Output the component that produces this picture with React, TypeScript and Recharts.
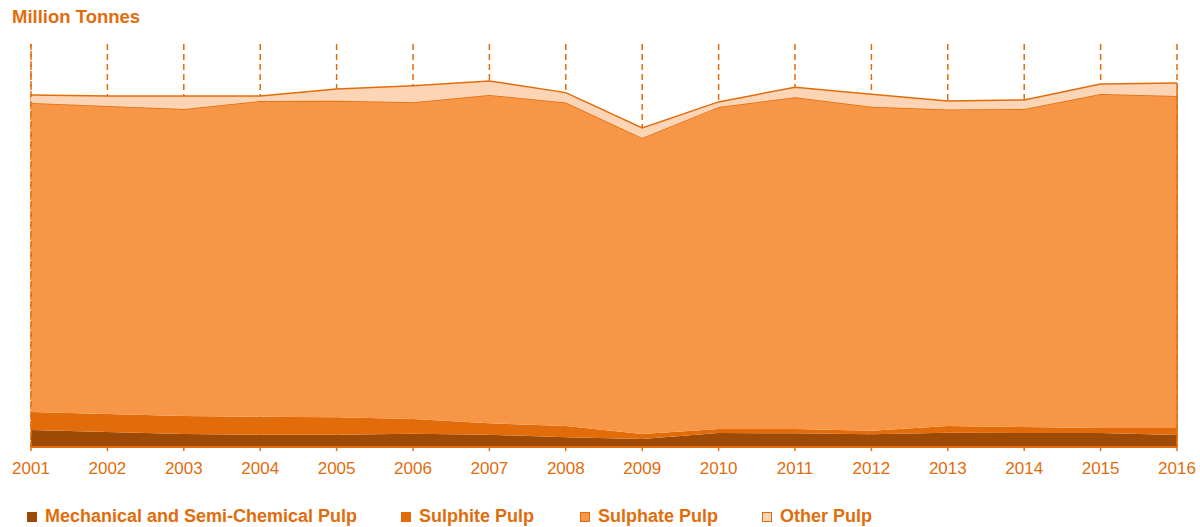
import React from 'react';
import { AreaChart, Area, XAxis, YAxis, CartesianGrid, ReferenceLine } from 'recharts';

// Pulp production by grade, million tonnes
const years = ['2001', '2002', '2003', '2004', '2005', '2006', '2007', '2008', '2009', '2010', '2011', '2012', '2013', '2014', '2015', '2016'];
const mechanical = [1.94, 1.71, 1.48, 1.4, 1.4, 1.52, 1.4, 1.11, 0.91, 1.6, 1.56, 1.45, 1.63, 1.6, 1.6, 1.37];
const sulphite = [2.05, 2.05, 2.05, 2.05, 1.99, 1.68, 1.3, 1.29, 0.57, 0.46, 0.49, 0.41, 0.76, 0.68, 0.57, 0.8];
const sulphate = [35.27, 35.16, 35.05, 36.04, 36.14, 36.15, 37.48, 36.91, 33.79, 36.76, 37.87, 36.99, 36.13, 36.3, 38.13, 37.9];
const other = [0.91, 1.14, 1.48, 0.57, 1.34, 1.89, 1.6, 1.14, 1.14, 0.57, 1.14, 1.42, 0.98, 1.03, 1.14, 1.48];

const ORANGE = '#E36C0A';
const FONT = '"Liberation Sans", Arial, sans-serif';

const series = [
  { key: 'mechanical', name: 'Mechanical and Semi-Chemical Pulp', fill: '#9C4A06', stroke: 'none' },
  { key: 'sulphite', name: 'Sulphite Pulp', fill: '#E36C0A', stroke: 'none' },
  { key: 'sulphate', name: 'Sulphate Pulp', fill: '#F79646', stroke: ORANGE },
  { key: 'other', name: 'Other Pulp', fill: '#FBD5B5', stroke: ORANGE },
];

const legendPos = [27, 401, 580, 762];

export default function App() {
  const data = years.map((year, i) => ({
    year,
    mechanical: mechanical[i],
    sulphite: sulphite[i],
    sulphate: sulphate[i],
    other: other[i],
  }));
  const last = data.length - 1;
  const lastTotal = mechanical[last] + sulphite[last] + sulphate[last] + other[last];

  return (
    <div style={{ position: 'absolute', left: 0, top: 0, width: 1200, height: 527, background: '#fff', fontFamily: FONT }}>
      <div style={{ position: 'absolute', left: 12, top: 6, color: ORANGE, fontWeight: 'bold', fontSize: 18.5 }}>
        Million Tonnes
      </div>
      <AreaChart width={1200} height={527} data={data} margin={{ top: 44, right: 23, left: 31, bottom: 0 }}>
        <CartesianGrid vertical horizontal={false} stroke={ORANGE} strokeDasharray="6 4" strokeWidth={1.5} />
        <XAxis
          dataKey="year"
          height={80}
          axisLine={{ stroke: ORANGE, strokeWidth: 2 }}
          tickLine={{ stroke: ORANGE, strokeWidth: 1.5 }}
          tickSize={4}
          tickMargin={11}
          interval={0}
          tick={{ fill: ORANGE, fontSize: 17, fontFamily: FONT }}
        />
        <YAxis hide domain={[0, 46]} />
        {series.map((s) => (
          <Area
            key={s.key}
            type="linear"
            dataKey={s.key}
            name={s.name}
            stackId="pulp"
            fill={s.fill}
            fillOpacity={1}
            stroke={s.stroke}
            strokeWidth={1.5}
            isAnimationActive={false}
          />
        ))}
        <ReferenceLine x="2001" stroke={ORANGE} strokeDasharray="6 4" strokeWidth={1.5} />
        <ReferenceLine
          segment={[{ x: '2016', y: 0 }, { x: '2016', y: lastTotal }]}
          stroke={ORANGE}
          strokeWidth={1.5}
        />
      </AreaChart>
      {series.map((s, i) => (
        <div
          key={s.key}
          style={{
            position: 'absolute',
            left: legendPos[i],
            top: 506,
            display: 'flex',
            alignItems: 'center',
            color: ORANGE,
            fontWeight: 'bold',
            fontSize: 18,
            whiteSpace: 'nowrap',
          }}
        >
          <span
            style={{
              display: 'inline-block',
              width: 10,
              height: 10,
              boxSizing: 'border-box',
              background: s.fill,
              border: s.stroke === 'none' ? 'none' : `1.5px solid ${ORANGE}`,
              marginRight: 8,
            }}
          />
          {s.name}
        </div>
      ))}
    </div>
  );
}
